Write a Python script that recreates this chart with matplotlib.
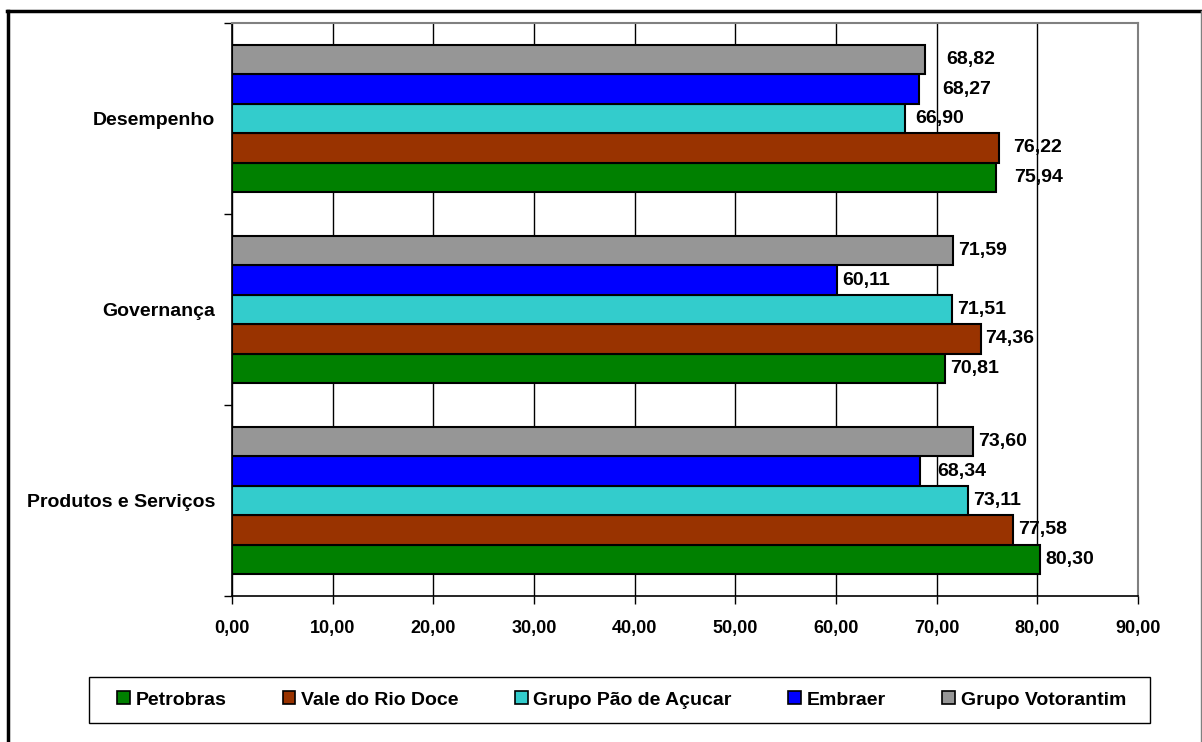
import matplotlib.pyplot as plt
import numpy as np
from matplotlib.patches import Patch, Rectangle
from matplotlib.lines import Line2D

plt.rcParams['font.family'] = ['Liberation Sans', 'DejaVu Sans']
plt.rcParams['font.weight'] = 'bold'

categories = ['Produtos e Serviços', 'Governança', 'Desempenho']
series = ['Petrobras', 'Vale do Rio Doce', 'Grupo Pão de Açucar', 'Embraer', 'Grupo Votorantim']
petrobras = [80.30, 70.81, 75.94]
vale = [77.58, 74.36, 76.22]
pao_acucar = [73.11, 71.51, 66.90]
embraer = [68.34, 60.11, 68.27]
votorantim = [73.60, 71.59, 68.82]
values = [petrobras, vale, pao_acucar, embraer, votorantim]
colors = ['#008000', '#993300', '#33CCCC', '#0000FF', '#969696']
xticks = np.arange(0, 91, 10)

# extra label nudges (px) where the original labels were moved by hand
nudge = {(2, 0): 13, (2, 1): 9, (2, 2): 5, (2, 3): 18, (2, 4): 16, (0, 3): 12}

W, H = 1202, 742
fig = plt.figure(figsize=(W / 100, H / 100), dpi=100)
ax = fig.add_axes([232 / W, 1 - 596 / H, (1138 - 232) / W, (596 - 23) / H])

n = len(series)
bar_h = 1.0 / (n + 1.5)
y0 = np.arange(len(categories))
for i, (name, vals, col) in enumerate(zip(series, values, colors)):
    ypos = y0 - bar_h * n / 2 + bar_h * (i + 0.5)
    ax.barh(ypos, vals, height=bar_h, color=col, edgecolor='black', linewidth=1.5, zorder=3, label=name)
    for j, v in enumerate(vals):
        off = 5 + nudge.get((j, i), 0)
        ax.annotate(f'{v:.2f}'.replace('.', ','), (v, ypos[j]), xytext=(off * 0.72, 0),
                    textcoords='offset points', va='center', ha='left', fontsize=14,
                    fontweight='bold', zorder=4)

ax.set_xlim(0, 90)
ax.set_ylim(-0.5, len(categories) - 0.5)
ax.set_xticks(xticks)
ax.set_xticklabels([f'{t:.2f}'.replace('.', ',') for t in xticks], fontsize=13, fontweight='bold')
ax.set_yticks(y0)
ax.set_yticklabels(categories, fontsize=14, fontweight='bold')
ax.set_yticks(np.arange(-0.5, len(categories), 1), minor=True)
ax.tick_params(axis='y', which='major', length=0, pad=12)
ax.tick_params(axis='y', which='minor', length=6, width=1, color='black')
ax.tick_params(axis='x', which='major', length=6, width=1, pad=11, direction='out')
ax.grid(axis='x', color='black', linewidth=1, zorder=0)
for s in ['top', 'right']:
    ax.spines[s].set_color('#808080')
    ax.spines[s].set_linewidth(1.5)
for s in ['left', 'bottom']:
    ax.spines[s].set_color('black')
    ax.spines[s].set_linewidth(1.2)

# legend box drawn separately so the side padding matches
fig.add_artist(Rectangle((89 / W, 1 - 723 / H), (1150 - 89) / W, 46 / H, transform=fig.transFigure,
                         facecolor='white', edgecolor='black', linewidth=1, zorder=1))
handles = [Patch(facecolor=c, edgecolor='black', linewidth=1.2) for c in colors]
leg = fig.legend(handles, series, loc='center', bbox_to_anchor=(621.5 / W, 1 - 700 / H),
                 ncol=5, frameon=False, handlelength=0.65, handleheight=0.65,
                 handletextpad=0.3, columnspacing=2.9, prop={'weight': 'bold', 'size': 14})
leg.set_zorder(2)

# outer chart border
fig.add_artist(Line2D([7 / W, 1200 / W], [1 - 11 / H, 1 - 11 / H], color='black', linewidth=2.5))
fig.add_artist(Line2D([8 / W, 8 / W], [0, 1 - 11 / H], color='black', linewidth=2.5))
fig.add_artist(Line2D([1200.5 / W, 1200.5 / W], [0, 1 - 11 / H], color='#808080', linewidth=1))

fig.savefig('out.png', dpi=100)
